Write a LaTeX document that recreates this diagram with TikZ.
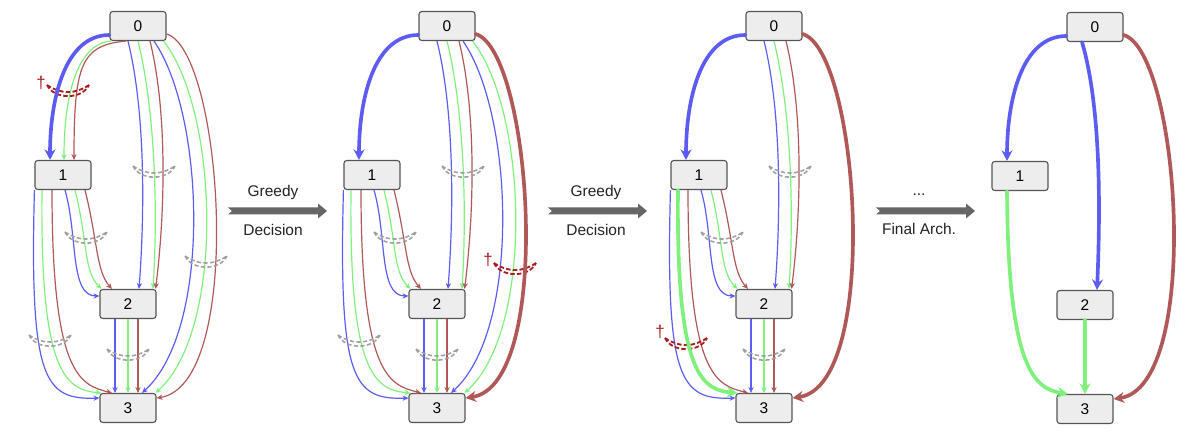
\documentclass[tikz,border=0pt]{standalone}
\usepackage{fontspec}
\setmainfont{Liberation Sans}
\usepackage{tikz}
\usetikzlibrary{calc,arrows.meta}
\definecolor{ink}{HTML}{222222}
\definecolor{opblue}{HTML}{5C5CF2}
\definecolor{opgreen}{HTML}{80F07C}
\definecolor{opred}{HTML}{B05858}
\definecolor{cut}{HTML}{A81E1E}
\definecolor{mixgray}{HTML}{A0A0A0}
\definecolor{boxfill}{HTML}{EDEDED}
\definecolor{boxline}{HTML}{555555}
\definecolor{stepgray}{HTML}{666666}
\tikzset{
  cell/.style={draw=boxline, fill=boxfill, rounded corners=2pt, line width=0.8pt,
    minimum width=1.4cm, minimum height=0.725cm, inner sep=0pt, text=black,
    font=\fontsize{11}{13}\selectfont},
  cand/.style={draw=#1, line width=0.85pt, -{Stealth[length=4.2pt,width=3.8pt]}},
  pick/.style={draw=#1, line width=2.6pt, line cap=round, -{Stealth[length=7.5pt,width=7.8pt]}},
  mix/.style={draw=mixgray, line width=1.1pt, dash pattern=on 3pt off 1.7pt},
  cutmix/.style={draw=cut, line width=1.3pt, dash pattern=on 3.2pt off 1.6pt},
  dag/.style={text=cut, inner sep=0pt, font=\fontsize{12}{14}\selectfont},
  txt/.style={text=ink, inner sep=0pt, font=\fontsize{11}{13}\selectfont},
}
\begin{document}
\begin{tikzpicture}[x=0.025cm, y=0.025cm]
  \useasboundingbox (0,0) rectangle (1200,440);
  % four snapshots of the cell
  \foreach \p/\x/\y in {a/138/414, b/447/414, c/774/414, d/1095/413}{
    \node[cell] (\p0) at (\x,\y) {0};
    \node[cell] (\p1) at (\x-75,\y-149) {1};
    \node[cell] (\p2) at (\x-10,\y-278) {2};
    \node[cell] (\p3) at (\x-10,\y-382) {3};
  }
  % candidates kept in all search steps
  \foreach \p in {a,b,c}{
    % 0 -> 2
    \draw[cand=opblue]  ($(\p0.south)+(-10,0)$) .. controls +(17,-69) and +(6,80) .. ($(\p2.north)+(11,0)$);
    \draw[cand=opgreen] (\p0.south) .. controls +(17,-69) and +(5,80) .. ($(\p2.north)+(25,0)$);
    \draw[cand=opred]   ($(\p0.south)+(12,0)$) .. controls +(17,-69) and +(10,80) .. ($(\p2.north east)+(-1,0)$);
    % 1 -> 2
    \draw[cand=opblue]  ($(\p1.south)+(2,0)$) .. controls +(13,-45) and +(-30,0) .. ($(\p2.west)+(0,8)$);
    \draw[cand=opgreen] ($(\p1.south)+(12,0)$) .. controls +(13,-52) and +(-18,18) .. ($(\p2.north west)+(2,0)$);
    \draw[cand=opred]   ($(\p1.south)+(22,0)$) .. controls +(13,-52) and +(-16,18) .. ($(\p2.north)+(-16,0)$);
    % 1 -> 3
    \draw[cand=opblue]  (\p1.south west) .. controls +(-5,-190) and +(-55,-2) .. ($(\p3.west)+(0,10)$);
    \draw[cand=opred]   ($(\p1.south)+(-11,0)$) .. controls +(0,-185) and +(-32,8) .. ($(\p3.north)+(-16,0)$);
    % 2 -> 3
    \draw[cand=opblue]  ($(\p2.south)+(-13,0)$) -- ($(\p3.north)+(-13,0)$);
    \draw[cand=opgreen] (\p2.south) -- (\p3.north);
    \draw[cand=opred]   ($(\p2.south)+(10,0)$) -- ($(\p3.north)+(10,0)$);
  }
  \foreach \p in {a,b}{
    \draw[cand=opblue]  ($(\p0.south)+(16,0)$) .. controls +(51,-74) and +(70,63) .. ($(\p3.north)+(14,0)$);
    \draw[cand=opgreen] ($(\p0.south east)+(-3,0)$) .. controls +(55,-70) and +(70,63) .. ($(\p3.north east)+(-1,0)$);
    \draw[cand=opgreen] ($(\p1.south)+(-21,0)$) .. controls +(-2,-180) and +(-37,3) .. ($(\p3.north west)+(2,0)$);
  }
  % first step only
  \draw[cand=opgreen] ($(a0.south west)+(2,0)$) .. controls +(-34,-2) and +(0,65) .. ($(a1.north)+(1,0)$);
  \draw[cand=opred]   ($(a0.south)+(-12,0)$) .. controls +(-45,-4) and +(0,95) .. ($(a1.north)+(11,0)$);
  \draw[cand=opred]   ($(a0.east)+(0,-8)$) .. controls +(56,-16) and +(89,13) .. ($(a3.east)+(0,10)$);
  % mixed edges still open
  \foreach \p/\dx/\dy in {a/16/-144, a/68/-234, a/-52/-210, a/-88/-313, a/-10/-327,
                          b/16/-144, b/-52/-210, b/-88/-313, b/-10/-327,
                          c/16/-144, c/-52/-210, c/-10/-327}
    \draw[mix] ($(\p0)+(\dx-21,\dy+4)$) to[bend right=35] ++(42,0)
               ($(\p0)+(\dx-21,\dy+4)$) to[bend right=65] ++(42,0);
  % edge decided in this step
  \foreach \p/\dx/\dy/\tx/\ty in {a/-70/-63/-97/-57, b/68/-241/41/-234, c/-88/-316/-114/-306}{
    \draw[cutmix] ($(\p0)+(\dx-21,\dy+4)$) to[bend right=35] ++(42,0)
                  ($(\p0)+(\dx-21,\dy+4)$) to[bend right=65] ++(42,0);
    \node[dag] (\p-cut) at ($(\p0)+(\tx,\ty)$) {\textdagger};
  }
  % picked operations
  \foreach \p in {a,b,c,d}
    \draw[pick=opblue] ($(\p0.west)+(0,-9)$) .. controls +(-45,0) and +(0,60) .. ($(\p1.north)+(-13,0)$);
  \foreach \p in {b,c,d}
    \draw[pick=opred] ($(\p0.east)+(0,-8)$) .. controls +(56,-16) and +(89,13) .. ($(\p3.east)+(0,10)$);
  \draw[pick=opgreen] ($(c1.south)+(-21,0)$) .. controls +(-2,-180) and +(-37,3) .. ($(c3.north west)+(2,0)$);
  % final architecture
  \draw[pick=opblue]  ($(d0.south)+(-13,0)$) .. controls +(20,-68) and +(3,70) .. ($(d2.north)+(12,0)$);
  \draw[pick=opgreen] ($(d1.south)+(-13,0)$) .. controls +(1,-179) and +(-33,5) .. ($(d3.north)+(-17,0)$);
  \draw[pick=opgreen] (d2.south) -- (d3.north);
  % greedy steps
  \foreach \s/\x in {1/228, 2/548, 3/876}{
    \coordinate (s\s) at (\x,229);
    \fill[stepgray] ($(s\s)+(0,3.5)$) -- ++(90,0) -- ++(0,4) -- ++(9,-7.5) -- ++(-9,-7.5)
      -- ++(0,4) -- ++(-90,0) -- ++(4,3.5) -- cycle;
  }
  \node[txt] (s1top) at (273,247) {Greedy};
  \node[txt] (s1bot) at (273,210) {Decision};
  \node[txt] (s2top) at (596,247) {Greedy};
  \node[txt] (s2bot) at (596,210) {Decision};
  \node[txt, anchor=base] (s3top) at (919,244) {...};
  \node[txt] (s3bot) at (919,211) {Final Arch.};
\end{tikzpicture}
\end{document}
